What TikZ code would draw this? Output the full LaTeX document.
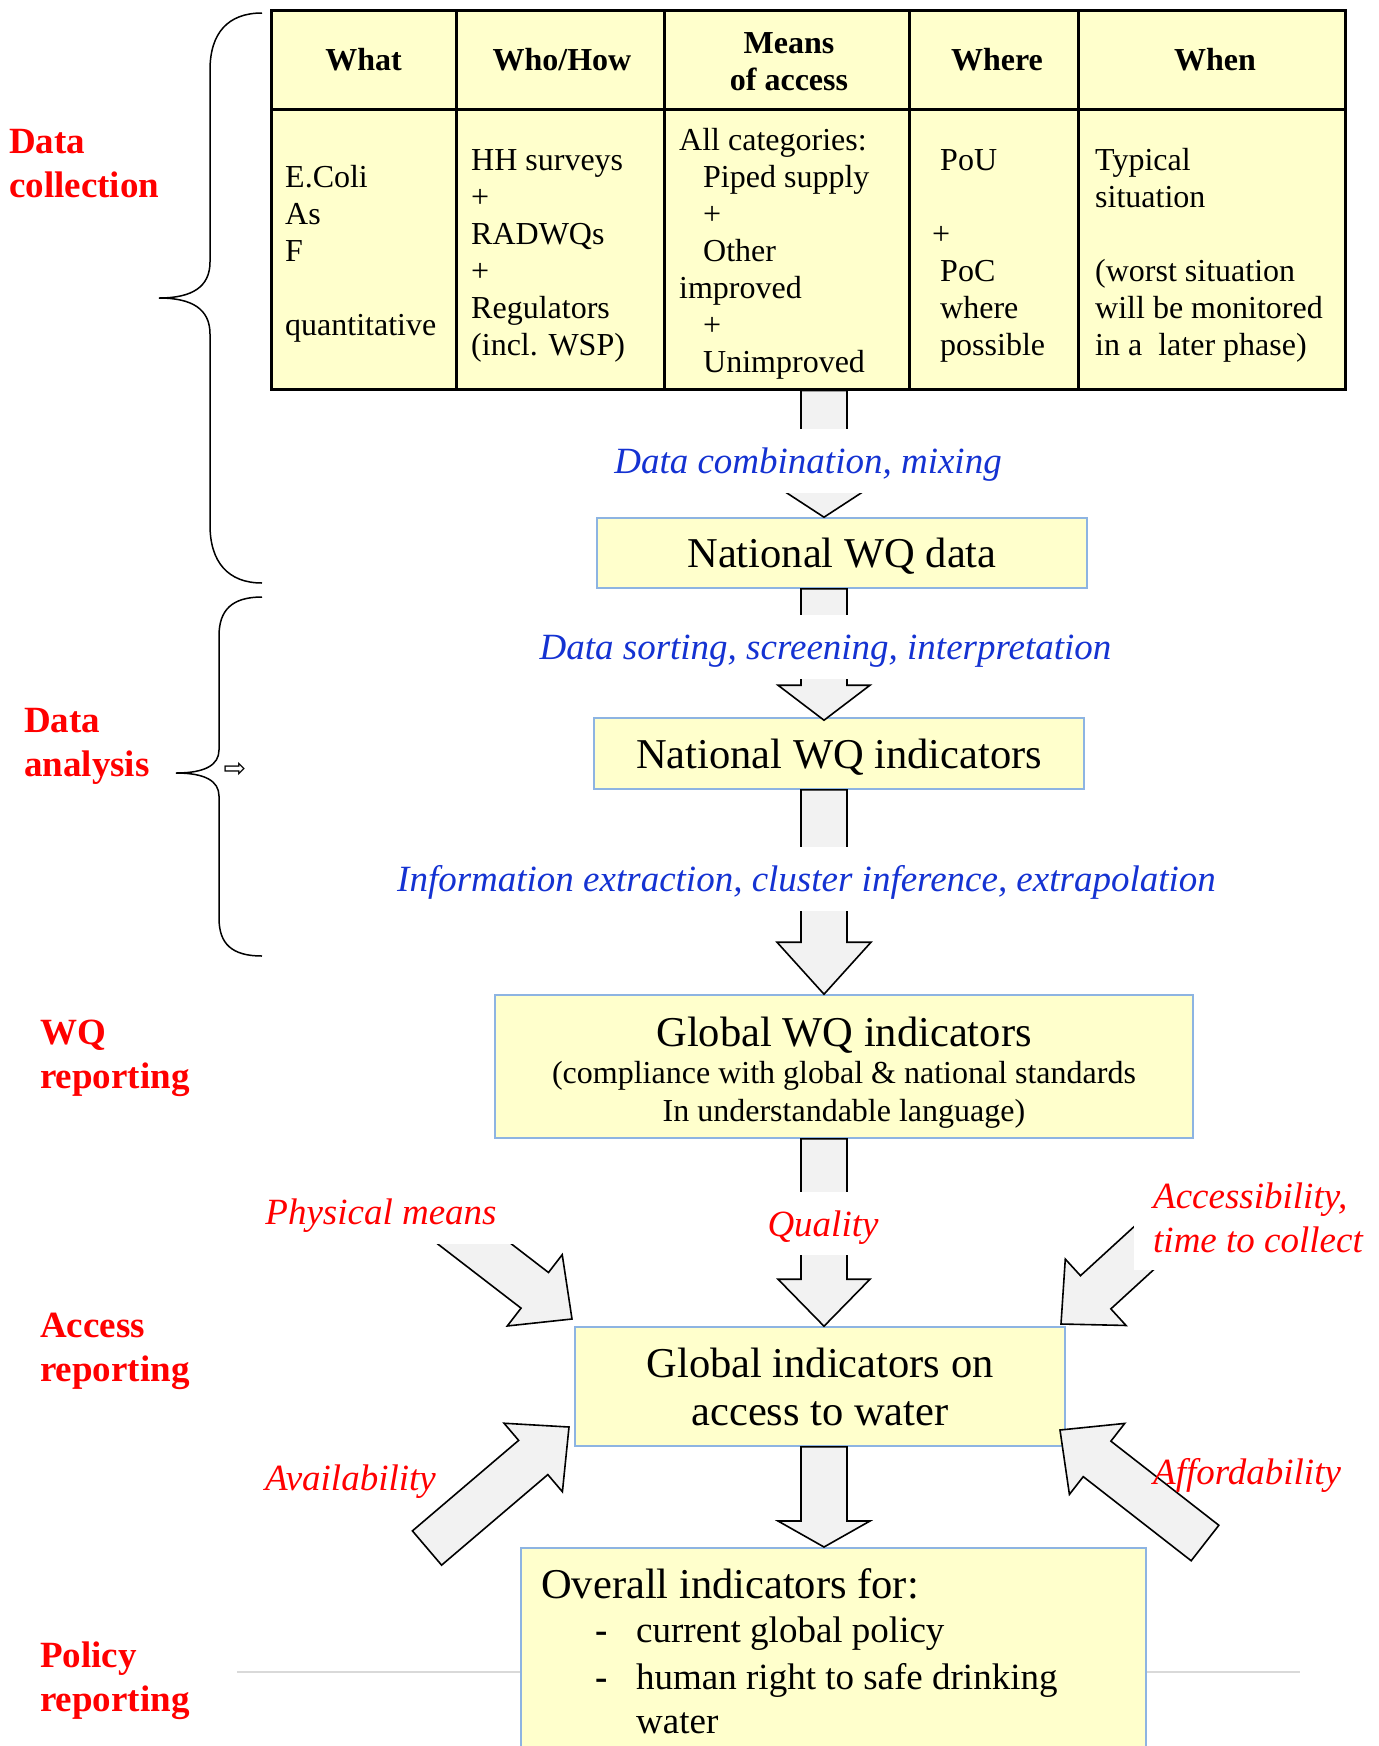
\documentclass[tikz,border=0pt]{standalone}
\usepackage{fontspec}
\setmainfont{Liberation Serif}
\newfontfamily\symfont{DejaVu Sans}
\usetikzlibrary{calc}
\definecolor{boxfill}{HTML}{FFFFCC}
\definecolor{boxline}{RGB}{141,180,226}
\definecolor{arrfill}{HTML}{F2F2F2}
\definecolor{lblue}{RGB}{20,50,210}
\definecolor{lred}{HTML}{FF0000}
\definecolor{rulegray}{HTML}{D9D9D9}

% block arrow from coordinate #1 to coordinate #2
% #3 shaft half width, #4 head half width, #5 head length
\newcommand\blockarrow[5]{%
  \pgfpointanchor{#1}{center}\pgfgetlastxy{\bax}{\bay}%
  \pgfpointanchor{#2}{center}\pgfgetlastxy{\bbx}{\bby}%
  \pgfmathsetmacro\baang{atan2((\bby)-(\bay),(\bbx)-(\bax))}%
  \pgfmathsetmacro\balen{veclen((\bbx)-(\bax),(\bby)-(\bay))}%
  \pgfmathsetmacro\baneck{\balen-#5}%
  \filldraw[blockarr,shift={(\bax,\bay)},rotate=\baang]
    (0pt,#3pt) -- (\baneck pt,#3pt) -- (\baneck pt,#4pt) -- (\balen pt,0pt)
    -- (\baneck pt,-#4pt) -- (\baneck pt,-#3pt) -- (0pt,-#3pt) -- cycle;}

\tikzset{
  blockarr/.style={fill=arrfill,draw=black,line width=1.6pt,line join=miter},
  tline/.style={line width=3pt,draw=black},
  tblbox/.style={draw=black,line width=3pt,fill=boxfill,inner sep=0pt},
  hdr/.style={font=\bfseries\fontsize{32}{37}\selectfont,align=center,inner sep=0pt},
  cell/.style={font=\fontsize{32}{37}\selectfont,align=left,inner sep=0pt,anchor=north west},
  ybox/.style={draw=boxline,line width=1.6pt,fill=boxfill,inner sep=0pt},
  big/.style={font=\fontsize{42.5}{48}\selectfont},
  blab/.style={fill=white,text=lblue,font=\itshape\fontsize{37}{44}\selectfont,
    minimum height=64pt,inner xsep=4pt,inner ysep=0pt,text height=30pt,text depth=6pt},
  rlab/.style={text=lred,font=\itshape\fontsize{37}{44}\selectfont,inner sep=0pt},
  sect/.style={text=lred,font=\bfseries\fontsize{37}{43.5}\selectfont,align=left,
    anchor=west,inner sep=0pt},
  brace/.style={line width=1.5pt,draw=black},
  item/.style={font=\fontsize{37}{46}\selectfont,inner sep=0pt}
}

\begin{document}
\begin{tikzpicture}[x=1pt,y=-1pt]
\useasboundingbox (0,0) rectangle (1379,1746);

% braces
\draw[brace] (262,13) .. controls (228,13) and (210,33) .. (210,70)
  -- (210,262) .. controls (210,287) and (192,298) .. (159,298)
  .. controls (192,298) and (210,309) .. (210,334)
  -- (210,525) .. controls (210,562) and (228,583) .. (262,583);
\draw[brace] (262,597) .. controls (232,597) and (219,610) .. (219,636)
  -- (219,750) .. controls (219,765) and (205,773) .. (176,773)
  .. controls (205,773) and (219,781) .. (219,796)
  -- (219,918) .. controls (219,944) and (232,956) .. (262,956);
\node[font=\symfont\fontsize{27}{30}\selectfont,inner sep=0pt] (sym) at (235,770) {⇨};

% grey rule
\draw[rulegray,line width=2pt] (237,1672) -- (1300,1672);

% table
\node[tblbox,minimum width=1074pt,minimum height=379pt] (tbl) at (808,199.5) {};
\draw[tline] (271,109) -- (1345,109);
\draw[tline] (456,10) -- (456,389);
\draw[tline] (664,10) -- (664,389);
\draw[tline] (909,10) -- (909,389);
\draw[tline] (1078,10) -- (1078,389);
\node[hdr] (hwhat) at (363.5,60) {What};
\node[hdr] (hwho) at (562,60) {Who/How};
\node[hdr] (hmeans) at (789,61.5) {Means\\of access};
\node[hdr] (hwhere) at (997,60) {Where};
\node[hdr] (hwhen) at (1215,60) {When};
\node[cell] (cwhat) at (285,161) {\strut E.Coli\\\strut As\\\strut F\\\strut\\\strut quantitative};
\node[cell] (cwho) at (471,144) {\strut HH surveys\\\strut +\\\strut RADWQs\\\strut +\\\strut Regulators\\\strut (incl. WSP)};
\node[cell] (cmeans) at (679,124) {\strut All categories:\\\hspace*{24pt}\strut Piped supply\\\hspace*{24pt}\strut +\\\hspace*{24pt}\strut Other\\\strut improved\\\hspace*{24pt}\strut +\\\hspace*{24pt}\strut Unimproved};
\node[cell] (cwhere) at (932,144) {\hspace*{8pt}\strut PoU\\\strut\\\strut +\\\hspace*{8pt}\strut PoC\\\hspace*{8pt}\strut where\\\hspace*{8pt}\strut possible};
\node[cell] (cwhen) at (1095,144) {\strut Typical\\\strut situation\\\strut\\\strut (worst situation\\\strut will be monitored\\\strut in a~ later phase)};

% boxes
\node[ybox,big,minimum width=490pt,minimum height=70pt,text depth=0pt] (nwd) at (842,553) {National WQ data};
\node[ybox,big,minimum width=490pt,minimum height=71pt,text depth=0pt] (nwi) at (839,753.5) {National WQ indicators};
\node[ybox,minimum width=698pt,minimum height=143pt,align=center,font=\fontsize{32}{37.5}\selectfont] (gwi) at (844,1066.5)
  {\rule{0pt}{43pt}{\fontsize{42.5}{48}\selectfont Global WQ indicators}\\(compliance with global \& national standards\\In understandable language)\rule[-9pt]{0pt}{9pt}};
\node[ybox,big,minimum width=490pt,minimum height=119pt,align=center] (gia) at (820,1386.5) {Global indicators on\\access to water};
\node[ybox,minimum width=625pt,minimum height=230pt,anchor=north west] (ovr) at (520,1547) {};
\node[big,inner sep=0pt,anchor=base west] (otitle) at (541,1598) {Overall indicators for:};
\node[item,anchor=base west,font=\bfseries\fontsize{37}{46}\selectfont] (d1) at (595,1642) {-};
\node[item,anchor=base west] (i1) at (636,1642) {current global policy};
\node[item,anchor=base west,font=\bfseries\fontsize{37}{46}\selectfont] (d2) at (595,1689) {-};
\node[item,anchor=north west,align=left] (i2) at (636,1656.8) {\strut human right to safe drinking\\[-2pt]\strut water};

% arrow end points
\coordinate (ax) at (824,0);
\coordinate (a1s) at (tbl.south -| ax);
\coordinate (a1e) at (nwd.north -| ax);
\coordinate (a2s) at (nwd.south -| ax);
\coordinate (a2e) at ($(nwi.north -| ax)+(0,3)$);
\coordinate (a3s) at (nwi.south -| ax);
\coordinate (a3e) at (gwi.north -| ax);
\coordinate (a4s) at (gwi.south -| ax);
\coordinate (a4e) at (gia.north -| ax);
\coordinate (a5s) at (gia.south -| ax);
\coordinate (a5e) at (ovr.north -| ax);
\coordinate (pmt) at (437,1215);
\coordinate (pmh) at (572,1319);
\coordinate (act) at (1179,1216);
\coordinate (ach) at (1061,1324);
\coordinate (avt) at (427,1548);
\coordinate (avh) at (569,1427);
\coordinate (aft) at (1205,1543);
\coordinate (afh) at (1060,1430);

% vertical block arrows
\blockarrow{a1s}{a1e}{23}{46}{30}
\blockarrow{a2s}{a2e}{23}{46}{35}
\blockarrow{a3s}{a3e}{23}{47}{52}
\blockarrow{a4s}{a4e}{23}{46}{47}
\blockarrow{a5s}{a5e}{23}{46}{26}
% diagonal block arrows
\blockarrow{pmt}{pmh}{22.5}{45}{47}
\blockarrow{act}{ach}{22.5}{45}{47}
\blockarrow{avt}{avh}{22.5}{45}{47}
\blockarrow{aft}{afh}{22.5}{45}{47}

% arrow labels
\node[blab] (l1) at (808,461) {Data combination, mixing};
\node[blab] (l2) at (825.5,647) {Data sorting, screening, interpretation};
\node[blab] (l3) at (806.5,879) {Information extraction, cluster inference, extrapolation};
\node[rlab,fill=white,minimum height=64pt,inner xsep=16pt,text height=30pt,text depth=5pt] (lpm) at (381,1212) {Physical means};
\node[rlab,fill=white,minimum height=63pt,inner xsep=4pt,text height=30pt,text depth=5pt] (lq) at (823,1223.5) {Quality};
\node[rlab,fill=white,anchor=west,align=left,minimum height=105pt,inner xsep=19pt] (lac) at (1134,1217.5) {Accessibility,\\time to collect};
\node[rlab,anchor=west,text height=26pt,text depth=9pt] (lav) at (265,1482) {Availability};
\node[rlab,anchor=west,text height=26pt,text depth=9pt] (laf) at (1153,1476) {Affordability};

% section labels
\node[sect] (s1) at (9,167) {\strut Data\\\strut collection};
\node[sect] (s2) at (24,746) {\strut Data\\\strut analysis};
\node[sect] (s3) at (40,1058) {\strut WQ\\\strut reporting};
\node[sect] (s4) at (40,1351) {\strut Access\\\strut reporting};
\node[sect] (s5) at (40,1681) {\strut Policy\\\strut reporting};
\end{tikzpicture}
\end{document}
